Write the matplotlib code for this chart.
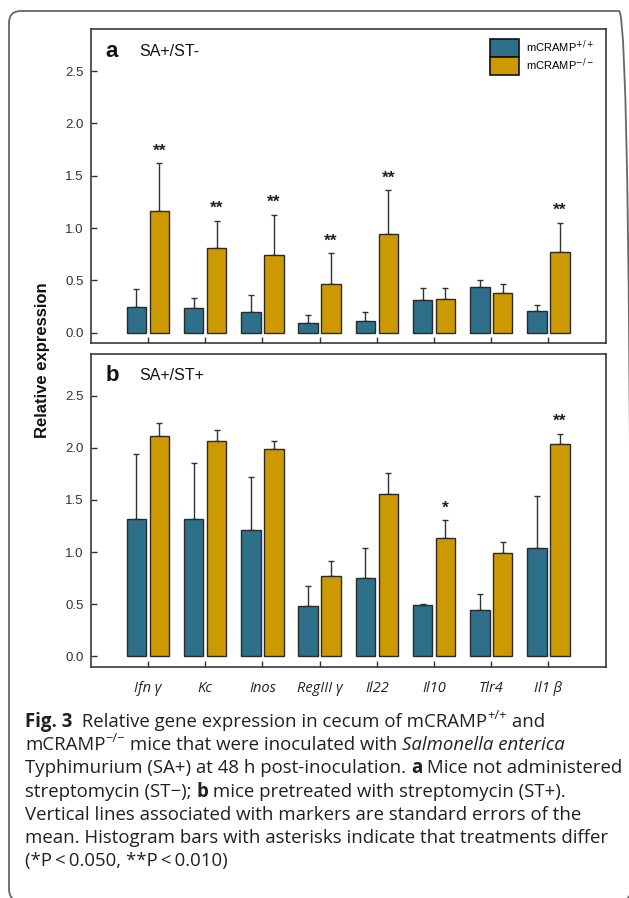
import numpy as np
import matplotlib
matplotlib.use('Agg')
import matplotlib.pyplot as plt
from matplotlib.patches import Patch, FancyBboxPatch
from matplotlib.transforms import IdentityTransform

# genes on the x axis
genes = ['Ifn γ', 'Kc', 'Inos', 'RegIII γ', 'Il22', 'Il10', 'Tlr4', 'Il1 β']

# panel a : SA+/ST-
a_wt = [0.25, 0.24, 0.20, 0.09, 0.11, 0.31, 0.44, 0.21]
a_wt_se = [0.17, 0.095, 0.16, 0.08, 0.085, 0.115, 0.065, 0.06]
a_ko = [1.16, 0.81, 0.74, 0.47, 0.94, 0.32, 0.38, 0.77]
a_ko_se = [0.46, 0.26, 0.39, 0.29, 0.42, 0.11, 0.09, 0.28]
a_sig = ['**', '**', '**', '**', '**', '', '', '**']

# panel b : SA+/ST+
b_wt = [1.32, 1.32, 1.21, 0.48, 0.75, 0.49, 0.44, 1.04]
b_wt_se = [0.62, 0.53, 0.51, 0.19, 0.29, 0.015, 0.155, 0.50]
b_ko = [2.11, 2.07, 1.99, 0.77, 1.56, 1.13, 0.99, 2.04]
b_ko_se = [0.13, 0.10, 0.075, 0.14, 0.20, 0.175, 0.11, 0.095]
b_sig = ['', '', '', '', '', '*', '', '**']

yticks = [0.0, 0.5, 1.0, 1.5, 2.0, 2.5]

TEAL = '#2e7089'
GOLD = '#cc9a00'
EDGE = '#2a2a2a'

plt.rcParams['font.family'] = ['Liberation Sans', 'DejaVu Sans']

fig = plt.figure(figsize=(6.29, 8.98), dpi=100)
W, H = 629, 898

ax_a = fig.add_axes([90.7 / W, 1 - 343.3 / H, 515 / W, 314 / H])
ax_b = fig.add_axes([90.7 / W, 1 - 666.7 / H, 515 / W, 312.7 / H])

x = np.arange(len(genes))
bw = 0.34
off = 0.2


def draw_panel(ax, wt, wt_se, ko, ko_se, sig, letter, title, show_xlabels):
    ax.bar(x - off, wt, bw, color=TEAL, edgecolor=EDGE, linewidth=1, zorder=2)
    ax.bar(x + off, ko, bw, color=GOLD, edgecolor=EDGE, linewidth=1, zorder=2)
    # only upper error bars
    ax.errorbar(x - off, wt, yerr=[np.zeros(len(wt)), wt_se], fmt='none',
                ecolor='#333333', elinewidth=1, capsize=2, capthick=1, zorder=1)
    ax.errorbar(x + off, ko, yerr=[np.zeros(len(ko)), ko_se], fmt='none',
                ecolor='#333333', elinewidth=1, capsize=2, capthick=1, zorder=1)
    for i in range(len(sig)):
        if sig[i]:
            ax.text(x[i] + off, ko[i] + ko_se[i] + 0.075, sig[i], ha='center',
                    va='baseline', fontsize=12.5, fontweight='bold', color='#222222')
    ax.set_xlim(-1, 8)
    ax.set_ylim(-0.1, 2.9)
    ax.set_yticks(yticks)
    ax.set_yticklabels(['%.1f' % v for v in yticks])
    ax.set_xticks(x)
    if show_xlabels:
        ax.set_xticklabels(genes, fontstyle='italic', fontsize=10.5,
                           family=['Open Sans', 'DejaVu Sans'])
    else:
        ax.set_xticklabels([])
    ax.tick_params(axis='y', direction='in', length=4.5, width=1, pad=5,
                   labelsize=9.5, colors='#333333')
    ax.tick_params(axis='x', direction='in', length=4, width=1, pad=10,
                   colors='#333333')
    ax.tick_params(axis='x', labelcolor='#222222')
    for s in ax.spines.values():
        s.set_color('#3a3a3a')
        s.set_linewidth(1.2)
    ax.text(0.028, 0.93, letter, transform=ax.transAxes, fontsize=16,
            fontweight='bold', va='center', ha='left', color='#111111')
    ax.text(0.094, 0.93, title, transform=ax.transAxes, fontsize=11.5,
            va='center', ha='left', color='#111111')


draw_panel(ax_a, a_wt, a_wt_se, a_ko, a_ko_se, a_sig, 'a', 'SA+/ST-', False)
draw_panel(ax_b, b_wt, b_wt_se, b_ko, b_ko_se, b_sig, 'b', 'SA+/ST+', True)

handles = [Patch(facecolor=TEAL, edgecolor='#111111', linewidth=1.2),
           Patch(facecolor=GOLD, edgecolor='#111111', linewidth=1.2)]
ax_a.legend(handles, ['mCRAMP$^{+/+}$', 'mCRAMP$^{-/-}$'], loc='upper left',
            bbox_to_anchor=(0.776, 0.972), frameon=False, fontsize=8,
            handlelength=2.6, handleheight=2.1, labelspacing=0,
            handletextpad=0.65, borderpad=0, borderaxespad=0)

fig.text(43 / W, 1 - 360 / H, 'Relative expression', rotation=90, ha='center',
         va='center', fontsize=12, fontweight='bold', color='#111111')

# outer rounded frame (right and bottom run off the page)
frame = FancyBboxPatch((9, -3), 622, 890, boxstyle='round,pad=0,rounding_size=12',
                       transform=IdentityTransform(), fill=False,
                       edgecolor='#666666', linewidth=1.3)
fig.add_artist(frame)

# caption, drawn run by run
CAP_FONT = ['Open Sans', 'DejaVu Sans']
CAP_COLOR = '#231f20'
r = fig.canvas.get_renderer()

caption = [
    [('Fig. 3', 'b'), ('  Relative gene expression in cecum of mCRAMP', 'n'),
     ('+/+', 'sup'), (' and', 'n')],
    [('mCRAMP', 'n'), ('−/−', 'sup'), (' mice that were inoculated with ', 'n'),
     ('Salmonella enterica', 'i')],
    [('Typhimurium (SA+) at 48 h post-inoculation. ', 'n'), ('a', 'b'),
     (' Mice not administered', 'n')],
    [('streptomycin (ST−); ', 'n'), ('b', 'b'),
     (' mice pretreated with streptomycin (ST+).', 'n')],
    [('Vertical lines associated with markers are standard errors of the', 'n')],
    [('mean. Histogram bars with asterisks indicate that treatments differ', 'n')],
    [('(*P\u2009<\u20090.050, **P\u2009<\u20090.010)', 'n')],
]


def run_kw(style, size):
    kw = dict(family=CAP_FONT, fontsize=size, color=CAP_COLOR)
    if style == 'b':
        kw['fontweight'] = 'bold'
    if style == 'i':
        kw['fontstyle'] = 'italic'
    if style == 'sup':
        kw['fontsize'] = size * 0.7
    return kw


def run_width(s, kw):
    t = fig.text(0, 0, '|' + s + '|', transform=IdentityTransform(), **kw)
    w1 = t.get_window_extent(r).width
    t.remove()
    t = fig.text(0, 0, '||', transform=IdentityTransform(), **kw)
    w2 = t.get_window_extent(r).width
    t.remove()
    return w1 - w2


# fit font size to the widest line
base = 12.0
wline = sum(run_width(s, run_kw(st, base)) for s, st in caption[2])
cap_size = base * 594 / wline

x0 = 25
baselines = [727, 750, 773, 797, 820, 843, 866]
for line, yb in zip(caption, baselines):
    xp = x0
    for s, st in line:
        kw = run_kw(st, cap_size)
        yy = H - yb
        if st == 'sup':
            yy += cap_size * 0.42 * 100 / 72
        fig.text(xp, yy, s, transform=IdentityTransform(), va='baseline',
                 ha='left', **kw)
        xp += run_width(s, kw)

fig.savefig('out.png', dpi=100)
